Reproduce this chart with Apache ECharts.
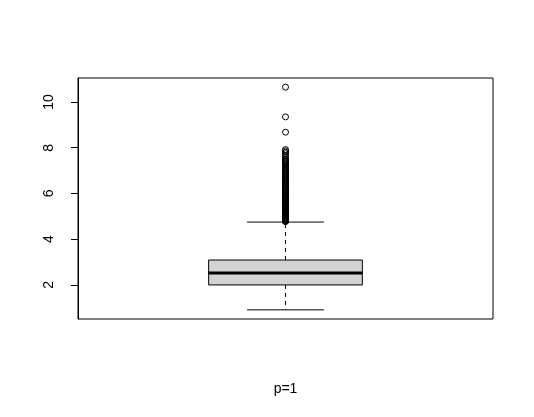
<!DOCTYPE html>
<html>
<head>
<meta charset="utf-8">
<script src="https://cdn.jsdelivr.net/npm/echarts@6/dist/echarts.min.js"></script>
<style>html,body{margin:0;padding:0;background:#fff;}#c{width:534px;height:417px;}</style>
</head>
<body>
<div id="c"></div>
<script>
var groupName = 'p=1';
var boxStats = [0.91, 2.0, 2.52, 3.09, 4.75]; // lower whisker, Q1, median, Q3, upper whisker
var outliers = [4.77, 4.79, 4.8, 4.82, 4.84, 4.86, 4.88, 4.9, 4.93, 4.95, 4.97, 5.0, 5.02, 5.05, 5.08, 5.1,
  5.13, 5.16, 5.19, 5.22, 5.25, 5.28, 5.31, 5.34, 5.37, 5.4, 5.43, 5.46, 5.5, 5.53, 5.56, 5.6, 5.63, 5.67,
  5.7, 5.74, 5.77, 5.81, 5.85, 5.88, 5.92, 5.96, 6.0, 6.04, 6.08, 6.12, 6.16, 6.2, 6.24, 6.28, 6.32, 6.36,
  6.4, 6.44, 6.48, 6.52, 6.56, 6.6, 6.64, 6.68, 6.72, 6.78, 6.82, 6.86, 6.9, 6.94, 6.98, 7.02, 7.06, 7.1,
  7.14, 7.18, 7.22, 7.26, 7.3, 7.34, 7.38, 7.42, 7.46, 7.5, 7.58, 7.66, 7.74, 7.8, 7.86, 7.92, 8.68, 9.35, 10.65];
var yTicks = [2, 4, 6, 8, 10];

var chart = echarts.init(document.getElementById('c'));
var font = 'Liberation Sans, Arial, sans-serif';
var outlierData = outliers.map(function (v) { return [1, v]; });

chart.setOption({
  animation: false,
  backgroundColor: '#ffffff',
  grid: { left: 78, top: 78, width: 415, height: 241, show: true, borderColor: '#000', borderWidth: 1, backgroundColor: 'transparent' },
  xAxis: {
    type: 'value', min: 0.46, max: 1.54,
    axisLine: { show: false }, axisTick: { show: false }, axisLabel: { show: false }, splitLine: { show: false },
    name: groupName, nameLocation: 'middle', nameGap: 63,
    nameTextStyle: { fontFamily: font, fontSize: 14, color: '#000' }
  },
  yAxis: {
    type: 'value', min: 0.51, max: 11.05,
    axisLine: { show: true, lineStyle: { color: '#000', width: 1 } },
    axisTick: { show: true, length: 7, customValues: yTicks, lineStyle: { color: '#000' } },
    axisLabel: { show: true, customValues: yTicks, rotate: 90, margin: 22, fontFamily: font, fontSize: 14, color: '#000' },
    splitLine: { show: false }
  },
  series: [
    {
      type: 'custom',
      data: [[1].concat(boxStats)],
      encode: { x: 0, y: [1, 5] },
      renderItem: function (params, api) {
        var x = api.value(0);
        var lo = api.value(1), q1 = api.value(2), med = api.value(3), q3 = api.value(4), hi = api.value(5);
        var bl = api.coord([x - 0.2, q1]), tr = api.coord([x + 0.2, q3]);
        var pLo = api.coord([x, lo]), pHi = api.coord([x, hi]);
        var pQ1 = api.coord([x, q1]), pQ3 = api.coord([x, q3]);
        var cl = api.coord([x - 0.1, lo]), cr = api.coord([x + 0.1, lo]);
        var hl = api.coord([x - 0.1, hi]), hr = api.coord([x + 0.1, hi]);
        var ml = api.coord([x - 0.2, med]), mr = api.coord([x + 0.2, med]);
        var solid = { stroke: '#000', lineWidth: 1, fill: null };
        var dashed = { stroke: '#000', lineWidth: 1, lineDash: [4, 4] };
        return {
          type: 'group',
          children: [
            { type: 'line', shape: { x1: pQ1[0], y1: pQ1[1], x2: pLo[0], y2: pLo[1] }, style: dashed },
            { type: 'line', shape: { x1: pQ3[0], y1: pQ3[1], x2: pHi[0], y2: pHi[1] }, style: dashed },
            { type: 'line', shape: { x1: cl[0], y1: cl[1], x2: cr[0], y2: cr[1] }, style: solid },
            { type: 'line', shape: { x1: hl[0], y1: hl[1], x2: hr[0], y2: hr[1] }, style: solid },
            { type: 'rect', shape: { x: bl[0], y: tr[1], width: tr[0] - bl[0], height: bl[1] - tr[1] },
              style: { fill: '#d3d3d3', stroke: '#000', lineWidth: 1 } },
            { type: 'line', shape: { x1: ml[0], y1: ml[1], x2: mr[0], y2: mr[1] }, style: { stroke: '#000', lineWidth: 3 } }
          ]
        };
      }
    },
    {
      type: 'scatter',
      data: outlierData,
      symbol: 'circle',
      symbolSize: 6,
      itemStyle: { color: 'rgba(0,0,0,0)', borderColor: '#000', borderWidth: 1, opacity: 1 },
      emphasis: { disabled: true }
    }
  ]
});
</script>
</body>
</html>
